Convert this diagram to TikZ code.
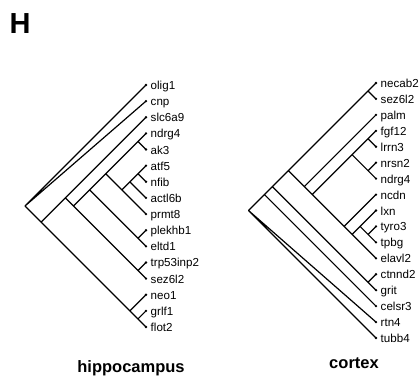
\documentclass[tikz,border=0pt]{standalone}
\usepackage{fontspec}
\setmainfont{Liberation Sans}
\tikzset{
  edge/.style={line width=1.2pt, line cap=round},
  lab/.style={anchor=base west, inner sep=0pt, font=\fontsize{11.6}{14}\selectfont, xshift=4.5pt, yshift=-4.5pt},
  tipdot/.style={circle, fill, inner sep=0pt, minimum size=2.6pt},
  ttl/.style={font=\bfseries\fontsize{16.5}{18}\selectfont, inner sep=0pt, anchor=base}
}
\newcommand\Clade[3]{\coordinate (#1) at ({\LX-(#3-#2)*\S/2},{\YO+(#2+#3)*\S/2});}
\newcommand\Leaf[3]{\coordinate (#1) at (\LX,{\YO+(#2)*\S}); \node[tipdot] (#1d) at (#1) {}; \node[lab] (#1t) at (#1) {#3};}
\begin{document}
\begin{tikzpicture}[x=1pt,y=-1pt]
\useasboundingbox (0,0) rectangle (419,377);
\node[font=\bfseries\fontsize{29}{30}\selectfont, anchor=base west, inner sep=0pt] (H) at (9.5,34) {H};

% ---------------- hippocampus ----------------
\def\LX{146}\def\YO{85}\def\S{16.133}
\Leaf{h0}{0}{olig1}
\Leaf{h1}{1}{cnp}
\Leaf{h2}{2}{slc6a9}
\Leaf{h3}{3}{ndrg4}
\Leaf{h4}{4}{ak3}
\Leaf{h5}{5}{atf5}
\Leaf{h6}{6}{nfib}
\Leaf{h7}{7}{actl6b}
\Leaf{h8}{8}{prmt8}
\Leaf{h9}{9}{plekhb1}
\Leaf{h10}{10}{eltd1}
\Leaf{h11}{11}{trp53inp2}
\Leaf{h12}{12}{sez6l2}
\Leaf{h13}{13}{neo1}
\Leaf{h14}{14}{grlf1}
\Leaf{h15}{15}{flot2}
\Clade{hR}{0}{15}
\Clade{hG}{2}{15}
\Clade{hA}{2}{12}
\Clade{hB}{3}{12}
\Clade{hC}{3}{10}
\Clade{hD}{3}{8}
\Clade{hE}{5}{8}
\Clade{hF}{5}{7}
\Clade{hP4}{5}{6}
\Clade{hP3}{3}{4}
\Clade{hP2}{9}{10}
\Clade{hP1}{11}{12}
\Clade{hQ}{13}{15}
\Clade{hP5}{14}{15}
\draw[edge] (hR) -- (h0) (hR) -- (h1) (hR) -- (hG)
  (hG) -- (hA) (hG) -- (hQ)
  (hA) -- (h2) (hA) -- (hB)
  (hB) -- (hC) (hB) -- (hP1)
  (hC) -- (hD) (hC) -- (hP2)
  (hD) -- (hP3) (hD) -- (hE)
  (hE) -- (hF) (hE) -- (h8)
  (hF) -- (hP4) (hF) -- (h7)
  (hP4) -- (h5) (hP4) -- (h6)
  (hP3) -- (h3) (hP3) -- (h4)
  (hP2) -- (h9) (hP2) -- (h10)
  (hP1) -- (h11) (hP1) -- (h12)
  (hQ) -- (h13) (hQ) -- (hP5)
  (hP5) -- (h14) (hP5) -- (h15);
\node[ttl] (htitle) at (131,372) {hippocampus};

% ---------------- cortex ----------------
\def\LX{376}\def\YO{83}\def\S{15.9375}
\Leaf{c0}{0}{necab2}
\Leaf{c1}{1}{sez6l2}
\Leaf{c2}{2}{palm}
\Leaf{c3}{3}{fgf12}
\Leaf{c4}{4}{lrrn3}
\Leaf{c5}{5}{nrsn2}
\Leaf{c6}{6}{ndrg4}
\Leaf{c7}{7}{ncdn}
\Leaf{c8}{8}{lxn}
\Leaf{c9}{9}{tyro3}
\Leaf{c10}{10}{tpbg}
\Leaf{c11}{11}{elavl2}
\Leaf{c12}{12}{ctnnd2}
\Leaf{c13}{13}{grit}
\Leaf{c14}{14}{celsr3}
\Leaf{c15}{15}{rtn4}
\Leaf{c16}{16}{tubb4}
\Clade{cR}{0}{16}
\Clade{cI}{0}{14}
\Clade{cJ}{0}{13}
\Clade{cK}{0}{11}
\Clade{cP0}{0}{1}
\Clade{cL}{2}{11}
\Clade{cM}{3}{11}
\Clade{cS}{3}{6}
\Clade{cS1}{3}{4}
\Clade{cS2}{5}{6}
\Clade{cN}{7}{11}
\Clade{cO}{8}{11}
\Clade{cPp}{8}{10}
\Clade{cT}{9}{10}
\Clade{cPc}{12}{13}
\draw[edge] (cR) -- (cI) (cR) -- (c15) (cR) -- (c16)
  (cI) -- (cJ) (cI) -- (c14)
  (cJ) -- (cK) (cJ) -- (cPc)
  (cK) -- (cP0) (cK) -- (cL)
  (cP0) -- (c0) (cP0) -- (c1)
  (cL) -- (c2) (cL) -- (cM)
  (cM) -- (cS) (cM) -- (cN)
  (cS) -- (cS1) (cS) -- (cS2)
  (cS1) -- (c3) (cS1) -- (c4)
  (cS2) -- (c5) (cS2) -- (c6)
  (cN) -- (c7) (cN) -- (cO)
  (cO) -- (cPp) (cO) -- (c11)
  (cPp) -- (c8) (cPp) -- (cT)
  (cT) -- (c9) (cT) -- (c10)
  (cPc) -- (c12) (cPc) -- (c13);
\node[ttl] (ctitle) at (354,368) {cortex};
\end{tikzpicture}
\end{document}
